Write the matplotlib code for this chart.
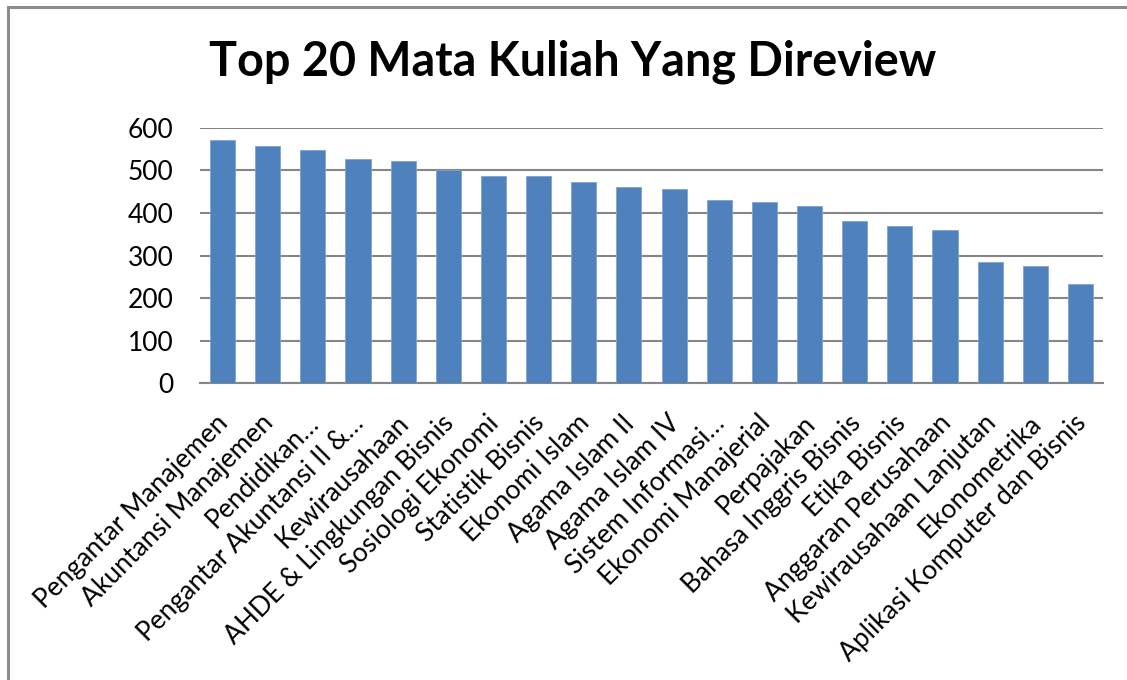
import matplotlib
matplotlib.use("Agg")
import matplotlib.pyplot as plt
import matplotlib.transforms as mtransforms
from matplotlib.patches import Rectangle

plt.rcParams['font.family'] = ['Lato', 'DejaVu Sans']

categories = [
    "Pengantar Manajemen", "Akuntansi Manajemen", "Pendidikan…",
    "Pengantar Akuntansi II &…", "Kewirausahaan", "AHDE & Lingkungan Bisnis",
    "Sosiologi Ekonomi", "Statistik Bisnis", "Ekonomi Islam", "Agama Islam II",
    "Agama Islam IV", "Sistem Informasi…", "Ekonomi Manajerial", "Perpajakan",
    "Bahasa Inggris Bisnis", "Etika Bisnis", "Anggaran Perusahaan",
    "Kewirausahaan Lanjutan", "Ekonometrika", "Aplikasi Komputer dan Bisnis",
]
values = [571, 557, 547, 527, 521, 501, 487, 487, 472, 461,
          456, 430, 426, 416, 380, 370, 360, 285, 275, 234]
yticks = [0, 100, 200, 300, 400, 500, 600]
title = "Top 20 Mata Kuliah Yang Direview"

fig = plt.figure(figsize=(11.27, 6.80), dpi=100)
ax = fig.add_axes([200/1127, 1-383.3/680, 903/1127, 255.6/680])

x = list(range(len(categories)))
ax.bar(x, values, width=0.556, color='#4F81BD', edgecolor='#7FA3D0', linewidth=0.6, zorder=3)
ax.set_xlim(-0.5, len(categories) - 0.5)
ax.set_ylim(0, 600)
ax.set_yticks(yticks)
ax.set_yticklabels([str(t) for t in yticks], fontsize=19)
ax.yaxis.grid(True, color='#868686', linewidth=1.5, zorder=0)
for s in ['top', 'right', 'left']:
    ax.spines[s].set_visible(False)
ax.spines['bottom'].set_color('#868686')
ax.spines['bottom'].set_linewidth(1.5)
ax.tick_params(axis='y', length=0, pad=19)
ax.tick_params(axis='x', length=0, pad=16)
ax.set_xticks(x)
ax.set_xticklabels(categories, rotation=45, ha='right', va='top',
                   rotation_mode='anchor', fontsize=19)
offset = mtransforms.ScaledTranslation(-5/72, -3.5/72, fig.dpi_scale_trans)
for lbl in ax.get_xticklabels():
    lbl.set_transform(lbl.get_transform() + offset)

fig.text(573/1127, 1-62/680, title, ha='center', va='center',
         fontsize=33.7, fontweight='bold')

fig.patches.append(Rectangle((7.5/1127, -0.1), 1.2, 1 - 7.5/680 + 0.1,
                             transform=fig.transFigure, fill=False,
                             edgecolor='#8C8C8C', linewidth=2.2))

fig.savefig("out.png", dpi=100)
